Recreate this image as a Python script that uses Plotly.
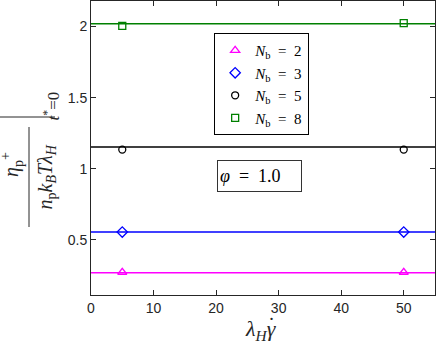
import plotly.graph_objects as go

# data
shear_rate = [5, 50]
line_x = [0, 55]
labels = ["2", "3", "5", "8"]
eta_points = {
    "2": [0.272, 0.272],
    "3": [0.555, 0.555],
    "5": [1.135, 1.135],
    "8": [2.005, 2.025],
}
eta_line = {"2": 0.268, "3": 0.555, "5": 1.153, "8": 2.02}

colors = {"2": "#FF00FF", "3": "#0000FF", "5": "#000000", "8": "#008000"}
symbols = {"2": "triangle-up-open", "3": "diamond-open",
           "5": "circle-open", "8": "square-open"}
sizes = {"2": 8, "3": 8, "5": 7, "8": 7}
axis_col = "#262626"
serif = "Liberation Serif"
sp = "\u2002"

fig = go.Figure()

# fitted constant lines (no legend)
for n in labels:
    fig.add_trace(go.Scatter(
        x=line_x, y=[eta_line[n]] * 2, mode="lines",
        line=dict(color=colors[n], width=1.5), showlegend=False,
        hoverinfo="skip"))

# data markers
for n in labels:
    fig.add_trace(go.Scatter(
        x=shear_rate, y=eta_points[n], mode="markers",
        marker=dict(symbol=symbols[n], size=sizes[n], color=colors[n],
                    line=dict(width=1.3, color=colors[n])),
        name="<i>N</i><sub>b</sub>" + sp + "=" + sp + n))

fig.update_layout(
    width=436, height=346,
    margin=dict(l=91, r=1, t=1, b=51),
    paper_bgcolor="white", plot_bgcolor="white",
    font=dict(family="Liberation Sans", size=14, color=axis_col),
    legend=dict(
        x=0.358, y=0.891, xanchor="left", yanchor="top",
        bgcolor="white", bordercolor="black", borderwidth=1,
        font=dict(family=serif, size=15, color="black"),
        itemwidth=30, tracegroupgap=0,
    ),
    showlegend=True,
)

fig.update_xaxes(
    range=[0, 55], tickvals=[0, 10, 20, 30, 40, 50],
    ticks="inside", ticklen=5, tickcolor=axis_col,
    showline=True, linecolor=axis_col, linewidth=1, mirror="ticks",
    showgrid=False, zeroline=False,
)
fig.update_yaxes(
    range=[0.112, 2.18], tickvals=[0.5, 1, 1.5, 2],
    ticktext=["0.5", "1", "1.5", "2"],
    ticks="inside", ticklen=5, tickcolor=axis_col,
    showline=True, linecolor=axis_col, linewidth=1, mirror="ticks",
    showgrid=False, zeroline=False,
)

def px_to_paper(px, py):
    return (px - 91) / 344, (295 - py) / 294

# x-axis label, with a separate dot over gamma
ax_, ay_ = px_to_paper(261, 346)
fig.add_annotation(x=ax_, y=ay_, xref="paper", yref="paper", showarrow=False,
                   yanchor="bottom",
                   text="<i>λ<sub>H</sub>γ</i>",
                   font=dict(family=serif, size=22, color=axis_col))
gx, gy = px_to_paper(271, 339)
fig.add_annotation(x=gx, y=gy, xref="paper", yref="paper", showarrow=False,
                   text="˙", font=dict(family=serif, size=21, color=axis_col))

# y-axis label built from pieces: fraction with evaluation bar
nx, ny = px_to_paper(28, 165)
dx, dy = px_to_paper(31, 177)
tx, ty = px_to_paper(38, 90)
fig.add_annotation(x=nx, y=ny, xref="paper", yref="paper", showarrow=False,
                   xanchor="right",
                   text="<i>η</i><sub>p</sub><sup>+</sup>", textangle=-90,
                   font=dict(family=serif, size=20, color=axis_col))
fig.add_annotation(x=dx, y=dy, xref="paper", yref="paper", showarrow=False,
                   xanchor="left",
                   text="<i>n</i><sub>p</sub><i>k<sub>B</sub>Tλ<sub>H</sub></i>",
                   textangle=-90,
                   font=dict(family=serif, size=20, color=axis_col))
fig.add_annotation(x=tx, y=ty, xref="paper", yref="paper", showarrow=False,
                   xanchor="left",
                   text="<i>t</i><sup>*</sup>=0", textangle=-90,
                   font=dict(family=serif, size=17, color=axis_col))

x0, y0 = px_to_paper(29, 127)
x1, y1 = px_to_paper(29, 227)
fig.add_shape(type="line", xref="paper", yref="paper", x0=x0, y0=y0,
              x1=x1, y1=y1, line=dict(color=axis_col, width=1))
x0, y0 = px_to_paper(0, 117)
x1, y1 = px_to_paper(55, 117)
fig.add_shape(type="line", xref="paper", yref="paper", x0=x0, y0=y0,
              x1=x1, y1=y1, line=dict(color=axis_col, width=1))

# phi text box
bx, by = px_to_paper(217, 176)
fig.add_annotation(x=bx, y=by, xref="paper", yref="paper", showarrow=False,
                   xanchor="left", yanchor="middle",
                   text="<i>φ</i>" + sp + "=" + sp + "1.0", align="left",
                   width=79, height=26, borderpad=2,
                   bordercolor="#333333", borderwidth=1, bgcolor="white",
                   font=dict(family=serif, size=18, color="black"))

fig.write_html("out.html", config={"displayModeBar": False},
               post_script="document.body.style.margin='0';")
